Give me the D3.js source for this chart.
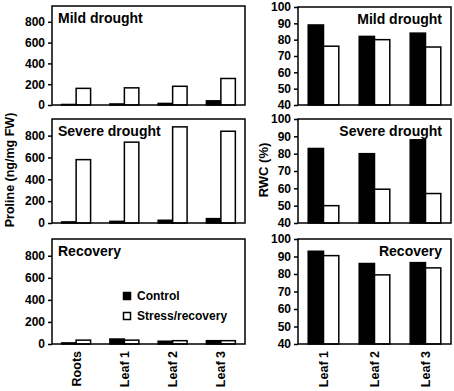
<!DOCTYPE html>
<html>
<head>
<meta charset="utf-8">
<script src="https://cdn.jsdelivr.net/npm/d3@7"></script>
<style>
  body { margin: 0; background: #fff; }
  svg { display: block; font-family: "Liberation Sans", Arial, sans-serif; font-weight: bold; }
</style>
</head>
<body>
<svg id="chart" width="454" height="391"></svg>
<script>
// proline (ng/mg FW)
const prolineTissues = ["Roots", "Leaf 1", "Leaf 2", "Leaf 3"];
const prolineTicks = [0, 200, 400, 600, 800];
const mildProlineControl = [5, 10, 15, 40];
const mildProlineStress = [160, 165, 180, 255];
const severeProlineControl = [10, 15, 25, 40];
const severeProlineStress = [580, 740, 880, 840];
const recoveryProlineControl = [10, 45, 25, 30];
const recoveryProlineStress = [35, 35, 30, 30];

// RWC (%)
const rwcTissues = ["Leaf 1", "Leaf 2", "Leaf 3"];
const rwcTicks = [40, 50, 60, 70, 80, 90, 100];
const mildRwcControl = [89, 82, 84];
const mildRwcStress = [76, 80, 75.5];
const severeRwcControl = [83, 80, 88];
const severeRwcStress = [50, 59.5, 57];
const recoveryRwcControl = [93, 86, 86.5];
const recoveryRwcStress = [90.5, 79.5, 83.5];

const panelTitles = ["Mild drought", "Severe drought", "Recovery"];
const legendLabels = ["Control", "Stress/recovery"];

const svg = d3.select("#chart");

const rows = [
  { top: 6, bottom: 105 },
  { top: 119, bottom: 223 },
  { top: 239, bottom: 344 },
];

function drawPanel(opt) {
  const g = svg.append("g");
  const x = d3.scaleBand().domain(opt.cats).range([opt.x0, opt.x1]).paddingInner(0.4).paddingOuter(0.2);
  const y = d3.scaleLinear().domain(opt.domain).range([opt.bottom, opt.top]);
  const sub = d3.scaleBand().domain([0, 1]).range([0, x.bandwidth()]);

  // y axis
  const yAxis = g.append("g")
    .attr("transform", "translate(" + opt.x0 + ",0)")
    .call(d3.axisLeft(y).tickValues(opt.ticks).tickSize(4).tickSizeOuter(0).tickPadding(3));
  yAxis.select(".domain").remove();
  yAxis.selectAll("line").attr("stroke", "#000").attr("stroke-width", 1.5);
  yAxis.selectAll("text").attr("font-size", 12).attr("font-weight", "bold").attr("fill", "#000")
    .attr("font-family", "Liberation Sans, Arial, sans-serif");

  // bars
  [opt.control, opt.stress].forEach(function (vals, si) {
    g.selectAll(".bar" + si)
      .data(vals)
      .join("rect")
      .attr("x", (d, i) => x(opt.cats[i]) + sub(si))
      .attr("width", sub.bandwidth())
      .attr("y", (d) => y(d))
      .attr("height", (d) => y(opt.domain[0]) - y(d))
      .attr("fill", si === 0 ? "#000" : "#fff")
      .attr("stroke", "#000")
      .attr("stroke-width", 1.5);
  });

  // frame
  g.append("rect")
    .attr("x", opt.x0).attr("y", opt.top)
    .attr("width", opt.x1 - opt.x0).attr("height", opt.bottom - opt.top)
    .attr("fill", "none").attr("stroke", "#000").attr("stroke-width", 1.5);

  // title
  g.append("text")
    .attr("x", opt.titleRight ? opt.x1 - 9 : opt.x0 + 6)
    .attr("y", opt.top + 17)
    .attr("text-anchor", opt.titleRight ? "end" : "start")
    .attr("font-size", 14)
    .text(opt.title);

  // category labels
  if (opt.showX) {
    g.selectAll(".xlab")
      .data(opt.cats)
      .join("text")
      .attr("transform", (d) => "translate(" + (x(d) + x.bandwidth() / 2) + "," + (opt.bottom + 7) + ") rotate(-90)")
      .attr("text-anchor", "end")
      .attr("dy", "0.36em")
      .attr("font-size", 12.5)
      .text((d) => d);
  }
  return { x: x, y: y };
}

const prolineControls = [mildProlineControl, severeProlineControl, recoveryProlineControl];
const prolineStresses = [mildProlineStress, severeProlineStress, recoveryProlineStress];
const rwcControls = [mildRwcControl, severeRwcControl, recoveryRwcControl];
const rwcStresses = [mildRwcStress, severeRwcStress, recoveryRwcStress];

rows.forEach(function (r, i) {
  drawPanel({
    cats: prolineTissues, ticks: prolineTicks, domain: [0, 952],
    x0: 52, x1: 245, top: r.top, bottom: r.bottom,
    control: prolineControls[i], stress: prolineStresses[i],
    title: panelTitles[i], titleRight: false, showX: i === 2,
  });
  drawPanel({
    cats: rwcTissues, ticks: rwcTicks, domain: [40, 100],
    x0: 298, x1: 451, top: i === 0 ? r.top + 1 : r.top, bottom: r.bottom,
    control: rwcControls[i], stress: rwcStresses[i],
    title: panelTitles[i], titleRight: true, showX: i === 2,
  });
});

// axis titles
svg.append("text")
  .attr("transform", "translate(9,170) rotate(-90)")
  .attr("text-anchor", "middle").attr("dy", "0.36em")
  .attr("font-size", 12.5)
  .text("Proline (ng/mg FW)");
svg.append("text")
  .attr("transform", "translate(263,170) rotate(-90)")
  .attr("text-anchor", "middle").attr("dy", "0.36em")
  .attr("font-size", 13)
  .text("RWC (%)");

// legend
const legend = svg.append("g").attr("transform", "translate(123,292)");
legendLabels.forEach(function (lab, i) {
  legend.append("rect")
    .attr("x", 0.5).attr("y", i * 20 + 0.5)
    .attr("width", 7).attr("height", 7)
    .attr("fill", i === 0 ? "#000" : "#fff")
    .attr("stroke", "#000").attr("stroke-width", 1.5);
  legend.append("text")
    .attr("x", 14).attr("y", i * 20 + 4).attr("dy", "0.36em")
    .attr("font-size", 12)
    .text(lab);
});
</script>
</body>
</html>
